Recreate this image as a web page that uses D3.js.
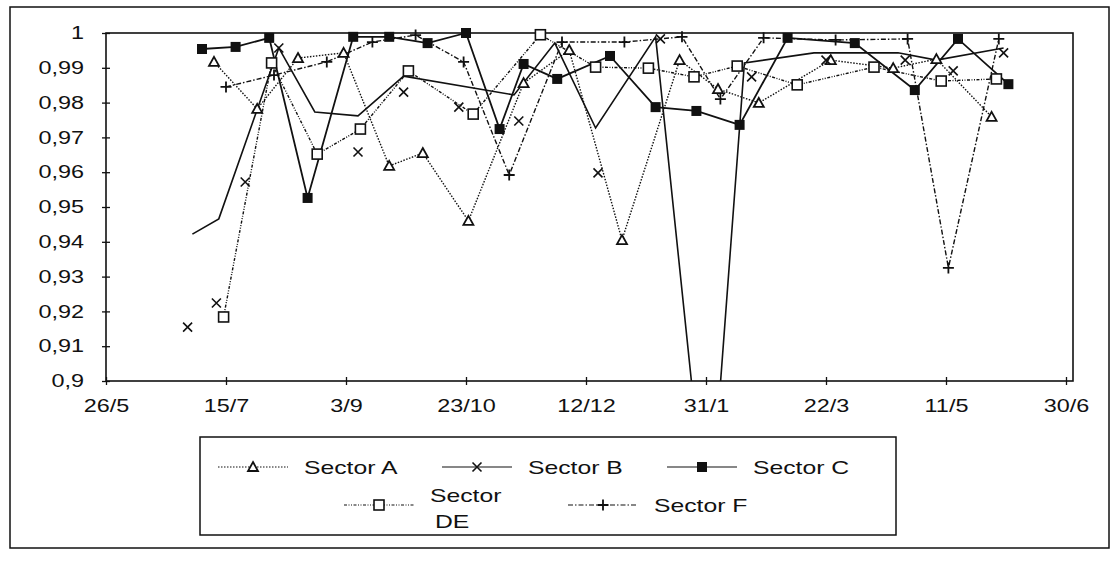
<!DOCTYPE html>
<html>
<head>
<meta charset="utf-8">
<script src="https://cdn.jsdelivr.net/npm/d3@7"></script>
<style>
    body { margin: 0; background: #fff; }
    svg text { font-family: "Liberation Sans", Arial, sans-serif; fill: #111; }
</style>
</head>
<body>
<div id="chart"></div>
<script>
// ---- data ----
const axisStart = "1997-05-26";
const axisEnd = "1998-06-30";
const xTickDates = ["1997-05-26", "1997-07-15", "1997-09-03", "1997-10-23", "1997-12-12",
    "1998-01-31", "1998-03-22", "1998-05-11", "1998-06-30"];
const yTicks = [0.9, 0.91, 0.92, 0.93, 0.94, 0.95, 0.96, 0.97, 0.98, 0.99, 1];
const yTickLabels = ["0,9", "0,91", "0,92", "0,93", "0,94", "0,95", "0,96", "0,97", "0,98", "0,99", "1"];

const sectorADates = ["1997-07-10", "1997-07-28", "1997-08-14", "1997-09-02", "1997-09-21", "1997-10-05",
    "1997-10-24", "1997-11-16", "1997-12-05", "1997-12-27", "1998-01-20", "1998-02-05", "1998-02-22",
    "1998-03-24", "1998-04-19", "1998-05-07", "1998-05-30"];
const sectorAValues = [0.9917, 0.9782, 0.9928, 0.9943, 0.9618, 0.9655, 0.946, 0.9856, 0.9951, 0.9405,
    0.9922, 0.9839, 0.9799, 0.9922, 0.9899, 0.9925, 0.9759];

// Sector B: the solid line and the x markers do not sit on the same points in the scan
const sectorBLineDates = ["1997-07-01", "1997-07-12", "1997-08-06", "1997-08-21", "1997-09-08", "1997-09-27",
    "1997-11-12", "1997-11-29", "1997-12-16", "1998-01-10", "1998-02-01", "1998-02-16", "1998-03-17",
    "1998-04-21", "1998-05-07", "1998-06-04"];
const sectorBLineValues = [0.9422, 0.9466, 0.9957, 0.9773, 0.9762, 0.9876, 0.9822, 0.9971, 0.9727, 0.9989,
    0.853, 0.9914, 0.9943, 0.9943, 0.9922, 0.9957];
const sectorBMarkDates = ["1997-06-29", "1997-07-11", "1997-07-23", "1997-08-06", "1997-09-08", "1997-09-27",
    "1997-10-20", "1997-11-14", "1997-12-17", "1998-01-12", "1998-02-19", "1998-03-22", "1998-04-24",
    "1998-05-14", "1998-06-04"];
const sectorBMarkValues = [0.9155, 0.9224, 0.9572, 0.9957, 0.9658, 0.983, 0.9787, 0.9747, 0.9598, 0.9983,
    0.9874, 0.9922, 0.9922, 0.9891, 0.9943];

const sectorCDates = ["1997-07-05", "1997-07-19", "1997-08-02", "1997-08-18", "1997-09-06", "1997-09-21",
    "1997-10-07", "1997-10-23", "1997-11-06", "1997-11-16", "1997-11-30", "1997-12-22", "1998-01-10",
    "1998-01-27", "1998-02-14", "1998-03-06", "1998-04-03", "1998-04-28", "1998-05-16", "1998-06-06"];
const sectorCValues = [0.9954, 0.996, 0.9986, 0.9526, 0.9989, 0.9989, 0.9971, 1.0, 0.9724, 0.9911, 0.9868,
    0.9934, 0.9787, 0.9776, 0.9736, 0.9986, 0.9971, 0.9836, 0.9983, 0.9853];

const sectorDEDates = ["1997-07-14", "1997-08-03", "1997-08-22", "1997-09-09", "1997-09-29", "1997-10-26",
    "1997-11-23", "1997-12-16", "1998-01-07", "1998-01-26", "1998-02-13", "1998-03-10", "1998-04-11",
    "1998-05-09", "1998-06-01"];
const sectorDEValues = [0.9184, 0.9914, 0.9652, 0.9724, 0.9891, 0.9767, 0.9995, 0.9902, 0.9899, 0.9874,
    0.9905, 0.9851, 0.9902, 0.9862, 0.9868];

const sectorFDates = ["1997-07-15", "1997-08-04", "1997-08-26", "1997-09-14", "1997-10-02", "1997-10-22",
    "1997-11-10", "1997-12-02", "1997-12-28", "1998-01-21", "1998-02-06", "1998-02-24", "1998-03-26",
    "1998-04-25", "1998-05-12", "1998-06-02"];
const sectorFValues = [0.9845, 0.9879, 0.9917, 0.9974, 0.9994, 0.9917, 0.9592, 0.9974, 0.9974, 0.9989,
    0.981, 0.9986, 0.998, 0.9983, 0.9325, 0.9983];

// ---- layout ----
const width = 1112, height = 571;
const plot = {left: 106, right: 1066, top: 33, bottom: 381, frameRight: 1073};
const ink = "#111";
const textStretch = 1.3;   // the scan's lettering is wide

const parseDate = d3.timeParse("%Y-%m-%d");

const xScale = d3.scaleTime()
    .domain([parseDate(axisStart), parseDate(axisEnd)])
    .range([plot.left, plot.right]);

const yScale = d3.scaleLinear()
    .domain([0.9, 1])
    .range([plot.bottom, plot.top]);

const svg = d3.select("#chart")
    .append("svg")
    .attr("width", width)
    .attr("height", height);

// widen text like the original lettering
function stretch(sel) {
    sel.each(function () {
        const w = this.getComputedTextLength();
        d3.select(this).attr("textLength", w * textStretch).attr("lengthAdjust", "spacingAndGlyphs");
    });
}

// Draws one marker shape at x, y
function drawMarker(g, type, x, y) {
    if (type === "triangle") {
        g.append("path")
            .attr("d", "M" + x + "," + (y - 5) + "L" + (x + 5) + "," + (y + 4) + "L" + (x - 5) + "," + (y + 4) + "Z")
            .attr("fill", "#fff").attr("stroke", ink).attr("stroke-width", 1.8);
    } else if (type === "cross") {
        g.append("path")
            .attr("d", "M" + (x - 4.5) + "," + (y - 4.5) + "L" + (x + 4.5) + "," + (y + 4.5) + "M" + (x + 4.5) + "," + (y - 4.5) + "L" + (x - 4.5) + "," + (y + 4.5))
            .attr("fill", "none").attr("stroke", ink).attr("stroke-width", 1.6);
    } else if (type === "filled") {
        g.append("rect")
            .attr("x", x - 5).attr("y", y - 5).attr("width", 10).attr("height", 10)
            .attr("fill", ink);
    } else if (type === "square") {
        g.append("rect")
            .attr("x", x - 5).attr("y", y - 5).attr("width", 10).attr("height", 10)
            .attr("fill", "#fff").attr("stroke", ink).attr("stroke-width", 1.6);
    } else if (type === "plus") {
        g.append("path")
            .attr("d", "M" + (x - 5.5) + "," + y + "L" + (x + 5.5) + "," + y + "M" + x + "," + (y - 5.5) + "L" + x + "," + (y + 5.5))
            .attr("fill", "none").attr("stroke", ink).attr("stroke-width", 1.8);
    }
}

const series = [
    {name: "Sector A", dates: sectorADates, values: sectorAValues, marker: "triangle", dash: "1.5,1.5", lw: 1.4},
    {name: "Sector B", dates: sectorBLineDates, values: sectorBLineValues, marker: "cross", dash: null, lw: 1.6,
        markDates: sectorBMarkDates, markValues: sectorBMarkValues},
    {name: "Sector C", dates: sectorCDates, values: sectorCValues, marker: "filled", dash: null, lw: 1.8},
    {name: "Sector DE", dates: sectorDEDates, values: sectorDEValues, marker: "square", dash: "3,1.5,1,1.5,1,1.5", lw: 1.4},
    {name: "Sector F", dates: sectorFDates, values: sectorFValues, marker: "plus", dash: "5,2,1.5,2", lw: 1.4}
];

// outer chart border
svg.append("rect")
    .attr("x", 10).attr("y", 7)
    .attr("width", 1099).attr("height", 541)
    .attr("fill", "none").attr("stroke", ink).attr("stroke-width", 1.5);

svg.append("clipPath").attr("id", "plotClip")
    .append("rect")
    .attr("x", plot.left).attr("y", plot.top - 6)
    .attr("width", plot.frameRight - plot.left).attr("height", plot.bottom - plot.top + 6);

// axes
const yAxis = d3.axisLeft(yScale)
    .tickValues(yTicks)
    .tickSize(4)
    .tickPadding(18)
    .tickFormat(function (d, i) { return yTickLabels[i]; });

const yG = svg.append("g")
    .attr("class", "yAxis")
    .attr("transform", "translate(" + plot.left + ",0)")
    .call(yAxis);

const xAxis = d3.axisBottom(xScale)
    .tickValues(xTickDates.map(parseDate))
    .tickSize(4)
    .tickPadding(14)
    .tickFormat(d3.timeFormat("%-d/%-m"));

const xG = svg.append("g")
    .attr("class", "xAxis")
    .attr("transform", "translate(0," + plot.bottom + ")")
    .call(xAxis);

[yG, xG].forEach(function (g) {
    g.select(".domain").remove();
    g.selectAll(".tick line").attr("stroke", ink).attr("stroke-width", 1.3);
    g.selectAll(".tick text").attr("font-size", 18).attr("fill", ink);
    stretch(g.selectAll(".tick text"));
});
yG.selectAll(".tick line").attr("x2", 4).attr("x1", -4);
xG.selectAll(".tick line").attr("y1", -4).attr("y2", 4);

// plot area frame
svg.append("rect")
    .attr("x", plot.left).attr("y", plot.top)
    .attr("width", plot.frameRight - plot.left).attr("height", plot.bottom - plot.top)
    .attr("fill", "none").attr("stroke", ink).attr("stroke-width", 1.6);

// series lines and markers
const line = d3.line()
    .x(function (d) { return xScale(d.date); })
    .y(function (d) { return yScale(d.value); });

const plotG = svg.append("g").attr("clip-path", "url(#plotClip)");

series.forEach(function (s) {
    const pts = s.dates.map(function (d, i) { return {date: parseDate(d), value: s.values[i]}; });
    plotG.append("path")
        .datum(pts)
        .attr("d", line)
        .attr("fill", "none")
        .attr("stroke", ink)
        .attr("stroke-width", s.lw)
        .attr("stroke-dasharray", s.dash);
});

series.forEach(function (s) {
    const mDates = s.markDates || s.dates;
    const mValues = s.markValues || s.values;
    mDates.forEach(function (d, i) {
        drawMarker(plotG, s.marker, xScale(parseDate(d)), yScale(mValues[i]));
    });
});

// legend
const legend = svg.append("g").attr("class", "legend");
legend.append("rect")
    .attr("x", 200).attr("y", 437)
    .attr("width", 696).attr("height", 98)
    .attr("fill", "#fff").attr("stroke", ink).attr("stroke-width", 1.5);

const legendItems = [
    {s: series[0], x: 218, y: 467, text: ["Sector A"]},
    {s: series[1], x: 442, y: 467, text: ["Sector B"]},
    {s: series[2], x: 667, y: 467, text: ["Sector C"]},
    {s: series[3], x: 344, y: 505, text: ["Sector", "DE"]},
    {s: series[4], x: 568, y: 505, text: ["Sector F"]}
];

legendItems.forEach(function (item) {
    const g = legend.append("g");
    g.append("line")
        .attr("x1", item.x).attr("x2", item.x + 70)
        .attr("y1", item.y).attr("y2", item.y)
        .attr("stroke", ink).attr("stroke-width", 1.2)
        .attr("stroke-dasharray", item.s.dash);
    drawMarker(g, item.s.marker, item.x + 35, item.y);
    if (item.text.length === 1) {
        g.append("text")
            .attr("x", item.x + 86).attr("y", item.y + 7)
            .attr("font-size", 19)
            .text(item.text[0]);
    } else {
        g.append("text")
            .attr("x", item.x + 86).attr("y", item.y - 3)
            .attr("font-size", 19)
            .text(item.text[0]);
        g.append("text")
            .attr("x", item.x + 91).attr("y", item.y + 23)
            .attr("font-size", 19)
            .text(item.text[1]);
    }
});
stretch(legend.selectAll("text"));
</script>
</body>
</html>
